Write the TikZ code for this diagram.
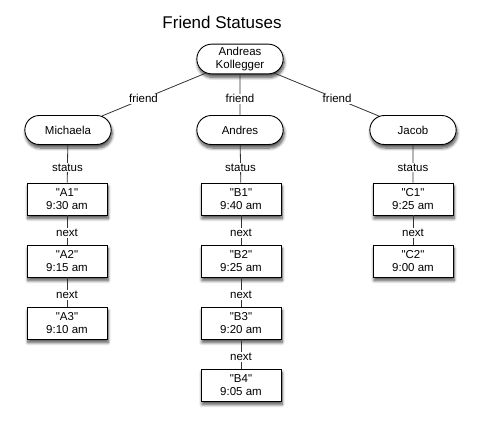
\documentclass[tikz,border=0pt]{standalone}
\usepackage{fontspec}
\setmainfont{Liberation Sans}[Ligatures=TeXOff]
\usetikzlibrary{shapes.misc,shadows.blur}

\tikzset{
  shade/.style={blur shadow={shadow xshift=1pt,shadow yshift=-3.5pt,shadow blur radius=3pt,
    shadow blur steps=8,shadow opacity=70}},
  person/.style={rounded rectangle,draw=black,fill=white,line width=0.9pt,
    minimum width=93pt,minimum height=29pt,inner ysep=3pt,align=center,shade},
  status/.style={rectangle,draw=black,fill=white,line width=0.9pt,
    minimum width=80pt,minimum height=32pt,inner sep=2pt,align=center,shade},
  link/.style={draw=black!80,line width=0.8pt},
  lbl/.style={fill=white,inner sep=1pt,pos=0.6}
}

\begin{document}
\begin{tikzpicture}[x=1pt,y=-1pt,font=\fontsize{11.5}{13}\selectfont]
\useasboundingbox (0,0) rectangle (480,424);
\node[font=\fontsize{17}{20}\selectfont] (title) at (222,22) {Friend Statuses};
% people
\node[person] (andreas) at (240,59) {Andreas\\Kollegger};
\node[person] (michaela) at (68,130) {Michaela};
\node[person] (andres) at (240,130) {Andres};
\node[person] (jacob) at (413,130) {Jacob};
% statuses
\foreach \s/\t [count=\i] in {A1/9:30 am,A2/9:15 am,A3/9:10 am}{
  \pgfmathsetmacro{\yy}{199+62*(\i-1)}
  \node[status] (a\i) at (67,\yy) {"\s"\\\t};
}
\foreach \s/\t [count=\i] in {B1/9:40 am,B2/9:25 am,B3/9:20 am,B4/9:05 am}{
  \pgfmathsetmacro{\yy}{199+62*(\i-1)}
  \node[status] (b\i) at (241,\yy) {"\s"\\\t};
}
\foreach \s/\t [count=\i] in {C1/9:25 am,C2/9:00 am}{
  \pgfmathsetmacro{\yy}{199+62*(\i-1)}
  \node[status] (c\i) at (413,\yy) {"\s"\\\t};
}
% connectors
\foreach \p in {michaela,andres,jacob}
  \draw[link] (andreas) -- node[lbl]{friend} (\p);
\draw[link] (michaela) -- node[lbl]{status} (a1);
\draw[link] (andres) -- node[lbl]{status} (b1);
\draw[link] (jacob) -- node[lbl]{status} (c1);
\foreach \p/\q in {a1/a2,a2/a3,b1/b2,b2/b3,b3/b4,c1/c2}
  \draw[link] (\p) -- node[lbl]{next} (\q);
\end{tikzpicture}
\end{document}
